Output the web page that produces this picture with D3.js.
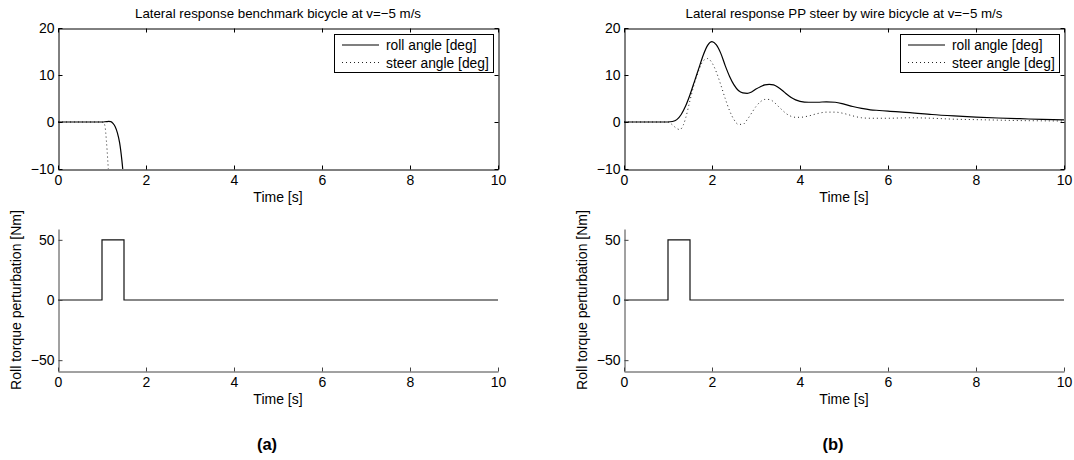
<!DOCTYPE html>
<html>
<head>
<meta charset="utf-8">
<script src="https://cdn.jsdelivr.net/npm/d3@7"></script>
<style>
  html, body { margin: 0; padding: 0; background: #fff; }
  svg { display: block; }
  text { font-family: "Liberation Sans", Arial, sans-serif; fill: #000; }
</style>
</head>
<body>
<svg id="chart" width="1074" height="460"></svg>
<script>
// ---------------- data ----------------
const timeTicks = [0, 2, 4, 6, 8, 10];
const angleTicks = [-10, 0, 10, 20];
const torqueTicks = [-50, 0, 50];

// Benchmark bicycle (unstable) at v=-5 m/s
const benchRollT = [0, 0.5, 1.0, 1.1, 1.15, 1.2, 1.25, 1.3, 1.35, 1.4, 1.45, 1.5, 1.55];
const benchRoll  = [0, 0, 0, 0.08, 0.12, 0.08, -0.3, -1.0, -2.3, -4.4, -8.0, -13.0, -19.0];
const benchSteerT = [0, 0.5, 1.0, 1.04, 1.07, 1.1, 1.13, 1.16, 1.2];
const benchSteer  = [0, 0, 0, -0.2, -1.0, -4.0, -8.0, -12.5, -18.0];

// PP steer by wire bicycle at v=-5 m/s
const ppRollT = [0, 0.5, 1.0, 1.1, 1.2, 1.3, 1.4, 1.5, 1.6, 1.7, 1.8, 1.9, 2.0, 2.1, 2.2, 2.3, 2.4, 2.5, 2.6, 2.7, 2.8, 2.9, 3.0, 3.1, 3.2, 3.3, 3.4, 3.5, 3.6, 3.7, 3.8, 3.9, 4.0, 4.2, 4.4, 4.6, 4.8, 5.0, 5.2, 5.4, 5.6, 5.8, 6.0, 6.5, 7.0, 7.5, 8.0, 8.5, 9.0, 9.5, 10];
const ppRoll  = [0, 0, 0, 0.1, 0.5, 1.6, 3.4, 5.8, 8.6, 11.4, 14.2, 16.3, 17.1, 16.4, 14.6, 12.0, 9.7, 7.9, 6.7, 6.2, 6.1, 6.4, 7.0, 7.5, 7.9, 8.0, 7.9, 7.4, 6.7, 5.9, 5.2, 4.7, 4.4, 4.2, 4.2, 4.3, 4.2, 3.8, 3.3, 2.9, 2.6, 2.45, 2.3, 2.0, 1.6, 1.3, 1.05, 0.85, 0.7, 0.55, 0.45];
const ppSteerT = [0, 0.5, 1.0, 1.1, 1.2, 1.27, 1.35, 1.4, 1.5, 1.6, 1.7, 1.8, 1.9, 2.0, 2.1, 2.2, 2.3, 2.4, 2.5, 2.6, 2.7, 2.8, 2.9, 3.0, 3.1, 3.2, 3.3, 3.4, 3.5, 3.6, 3.7, 3.8, 3.9, 4.0, 4.2, 4.4, 4.6, 4.8, 5.0, 5.2, 5.4, 5.6, 6.0, 6.5, 7.0, 7.5, 8.0, 8.5, 9.0, 9.5, 10];
const ppSteer  = [0, 0, 0, -0.6, -1.4, -1.6, -0.6, 0.8, 4.6, 8.2, 11.0, 13.0, 13.5, 12.6, 10.6, 7.9, 5.0, 2.4, 0.5, -0.5, -0.5, 0.5, 1.9, 3.3, 4.3, 4.8, 4.8, 4.3, 3.4, 2.5, 1.7, 1.2, 1.0, 1.0, 1.3, 1.8, 2.1, 2.1, 1.8, 1.3, 0.9, 0.8, 0.8, 0.9, 0.8, 0.6, 0.5, 0.4, 0.3, 0.25, 0.2];

// Roll torque perturbation (same in both cases)
const torqueT = [0, 1.0, 1.0, 1.5, 1.5, 10];
const torque  = [0, 0, 50, 50, 0, 0];

const legendLabels = ["roll angle [deg]", "steer angle [deg]"];
const titles = ["Lateral response benchmark bicycle at v=\u22125 m/s",
                "Lateral response PP steer by wire bicycle at v=\u22125 m/s"];
const panelLabels = ["(a)", "(b)"];

// ---------------- drawing ----------------
const svg = d3.select("#chart");
const fmt = d => (d < 0 ? "\u2212" + Math.abs(d) : String(d));
const zip = (xs, ys) => xs.map((x, i) => [x, ys[i]]);
const FS = 14;

function styleAxis(g, color) {
  g.attr("font-size", null);
  g.selectAll("path.domain").attr("stroke", color).attr("stroke-width", 1);
  g.selectAll(".tick line").attr("stroke", color).attr("stroke-width", 1);
  g.selectAll(".tick text").attr("font-size", FS).attr("font-family", "Liberation Sans, Arial, sans-serif").attr("fill", "#000");
}

function drawPanel(idx, left, rollT, roll, steerT, steer) {
  const W = 440;
  const x = d3.scaleLinear().domain([0, 10]).range([left, left + W]);
  const yTop = d3.scaleLinear().domain([-10, 20]).range([169, 28]);
  const yBot = d3.scaleLinear().domain([-59, 59]).range([371, 229]);
  const cx = left + W / 2;

  // title
  svg.append("text").attr("x", cx).attr("y", 18).attr("text-anchor", "middle")
    .attr("font-size", 13.3).text(titles[idx]);

  // ---- top axes (boxed) ----
  const gT = svg.append("g");
  const clipId = "clip" + idx;
  svg.append("clipPath").attr("id", clipId).append("rect")
    .attr("x", left).attr("y", 28).attr("width", W).attr("height", 141);

  const line = d3.line().x(d => x(d[0])).curve(d3.curveMonotoneX);
  gT.append("path").datum(zip(steerT, steer))
    .attr("d", line.y(d => yTop(d[1])))
    .attr("fill", "none").attr("stroke", "#222").attr("stroke-width", 1)
    .attr("stroke-dasharray", "1,3").attr("clip-path", `url(#${clipId})`);
  gT.append("path").datum(zip(rollT, roll))
    .attr("d", line.y(d => yTop(d[1])))
    .attr("fill", "none").attr("stroke", "#000").attr("stroke-width", 1.2)
    .attr("clip-path", `url(#${clipId})`);

  const ax1 = gT.append("g").attr("transform", "translate(0,169.5)")
    .call(d3.axisBottom(x).tickValues(timeTicks).tickSize(-4).tickSizeOuter(0).tickPadding(6).tickFormat(fmt));
  const ax2 = gT.append("g").attr("transform", "translate(0,28.5)")
    .call(d3.axisTop(x).tickValues(timeTicks).tickSize(-4).tickSizeOuter(0).tickFormat(""));
  const ay1 = gT.append("g").attr("transform", `translate(${left + 0.5},0)`)
    .call(d3.axisLeft(yTop).tickValues(angleTicks).tickSize(-4).tickSizeOuter(0).tickPadding(4).tickFormat(fmt));
  const ay2 = gT.append("g").attr("transform", `translate(${left + W + 0.5},0)`)
    .call(d3.axisRight(yTop).tickValues(angleTicks).tickSize(-4).tickSizeOuter(0).tickFormat(""));
  [ax1, ax2, ay1, ay2].forEach(a => styleAxis(a, "#000"));

  svg.append("text").attr("x", cx).attr("y", 202).attr("text-anchor", "middle")
    .attr("font-size", FS).text("Time [s]");

  // legend
  const lg = svg.append("g").attr("transform", `translate(${left + W - 164},34)`);
  lg.append("rect").attr("x", 0.5).attr("y", 0.5).attr("width", 159).attr("height", 38)
    .attr("fill", "#fff").attr("stroke", "#000").attr("stroke-width", 1);
  const styles = [{dash: null, w: 1.2, c: "#000"}, {dash: "1,3", w: 1, c: "#222"}];
  legendLabels.forEach((lab, i) => {
    const yy = 11 + i * 17.5;
    lg.append("line").attr("x1", 8).attr("x2", 45).attr("y1", yy).attr("y2", yy)
      .attr("stroke", styles[i].c).attr("stroke-width", styles[i].w)
      .attr("stroke-dasharray", styles[i].dash);
    lg.append("text").attr("x", 52).attr("y", yy + 5).attr("font-size", 13.8).text(lab);
  });

  // ---- bottom axes (torque) ----
  const gB = svg.append("g");
  gB.append("path").datum(zip(torqueT, torque))
    .attr("d", d3.line().x(d => x(d[0])).y(d => yBot(d[1])))
    .attr("fill", "none").attr("stroke", "#111").attr("stroke-width", 1.2);
  const bx = gB.append("g").attr("transform", "translate(0,371.5)")
    .call(d3.axisBottom(x).tickValues(timeTicks).tickSize(-4).tickSizeOuter(0).tickPadding(6).tickFormat(fmt));
  const by = gB.append("g").attr("transform", `translate(${left + 0.5},0)`)
    .call(d3.axisLeft(yBot).tickValues(torqueTicks).tickSize(-4).tickSizeOuter(0).tickPadding(4).tickFormat(fmt));
  [bx, by].forEach(a => styleAxis(a, "#444"));

  svg.append("text").attr("x", cx).attr("y", 404).attr("text-anchor", "middle")
    .attr("font-size", FS).text("Time [s]");
  svg.append("text").attr("transform", `translate(${left - 37},300) rotate(-90)`)
    .attr("text-anchor", "middle").attr("font-size", FS)
    .text("Roll torque perturbation [Nm]");

  // panel label
  svg.append("text").attr("x", cx - 11).attr("y", 450).attr("text-anchor", "middle")
    .attr("font-family", "DejaVu Sans, sans-serif").attr("font-weight", "bold")
    .attr("font-size", 16.5).text(panelLabels[idx]);
}

drawPanel(0, 58, benchRollT, benchRoll, benchSteerT, benchSteer);
drawPanel(1, 624, ppRollT, ppRoll, ppSteerT, ppSteer);
</script>
</body>
</html>
